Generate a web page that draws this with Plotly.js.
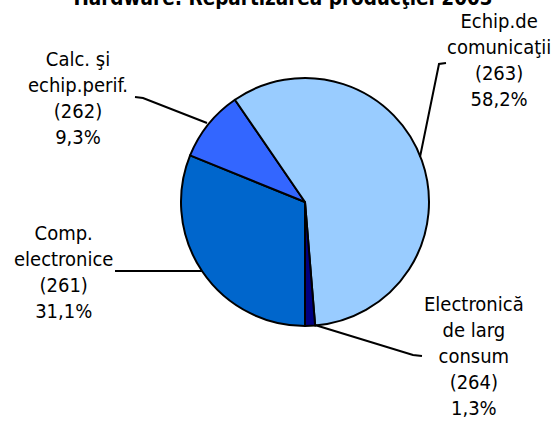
<!DOCTYPE html>
<html><head><meta charset="utf-8">
<script src="https://cdn.plot.ly/plotly-3.0.1.min.js"></script>
<style>html,body{margin:0;padding:0;background:#fff;overflow:hidden}</style>
</head><body><div id="chart" style="width:556px;height:421px"></div>
<script>
// ---- data ----
const categories = ["Comp.<br>electronice", "Calc. şi<br>echip.perif.", "Echip.de<br>comunicaţii", "Electronică<br>de larg<br>consum"];
const codes = ["261", "262", "263", "264"];
const shares = [31.1, 9.3, 58.2, 1.3];
const colors = ["#0066CC", "#3366FF", "#99CCFF", "#000080"];
const titleText = "Hardware: Repartizarea producţiei 2003";

// ---- layout helpers (pixel -> paper) ----
const W = 556, H = 421;
const px = x => x / W, py = y => 1 - y / H;
const labelPos = [[63, 272], [78, 98], [499, 60], [474, 356]];
const leaders = [
  [[115, 271], [202, 271]],
  [[135, 97], [143, 98], [207, 123]],
  [[446, 63], [439, 64], [420, 157]],
  [[315, 325], [413, 355], [422, 356]]
];
const FONT = "'DejaVu Sans Condensed', 'DejaVu Sans', sans-serif";
const cx = 305, cy = 202, r = 124;

const fmt = v => v.toFixed(1).replace('.', ',') + '%';

const trace = {
  type: 'pie',
  values: shares,
  labels: categories,
  sort: false,
  direction: 'clockwise',
  rotation: 180,
  textinfo: 'none',
  hoverinfo: 'skip',
  marker: {colors: colors, line: {color: '#000000', width: 2}},
  domain: {x: [px(cx - r), px(cx + r)], y: [py(cy + r), py(cy - r)]},
  showlegend: false
};

const annotations = categories.map((c, i) => ({
  text: c + '<br>(' + codes[i] + ')<br>' + fmt(shares[i]),
  x: px(labelPos[i][0]), y: py(labelPos[i][1]),
  xref: 'paper', yref: 'paper', xanchor: 'center', yanchor: 'middle',
  showarrow: false, align: 'center',
  font: {family: FONT, size: 20, color: '#000000'}
}));

const shapes = leaders.map(pts => ({
  type: 'path', xref: 'paper', yref: 'paper',
  path: pts.map((p, k) => (k ? 'L' : 'M') + px(p[0]) + ',' + py(p[1])).join(' '),
  line: {color: '#000000', width: 2}
}));

const layout = {
  width: W, height: H,
  margin: {l: 0, r: 0, t: 0, b: 0},
  paper_bgcolor: '#ffffff', plot_bgcolor: '#ffffff',
  title: {text: '<b>' + titleText + '</b>', x: px(283), xanchor: 'center',
          xref: 'container', yref: 'container', y: py(4.5), yanchor: 'bottom',
          font: {family: FONT, size: 20.5, color: '#000000'}},
  annotations: annotations,
  shapes: shapes
};

Plotly.newPlot('chart', [trace], layout, {displayModeBar: false, staticPlot: true});
</script>
</body></html>
